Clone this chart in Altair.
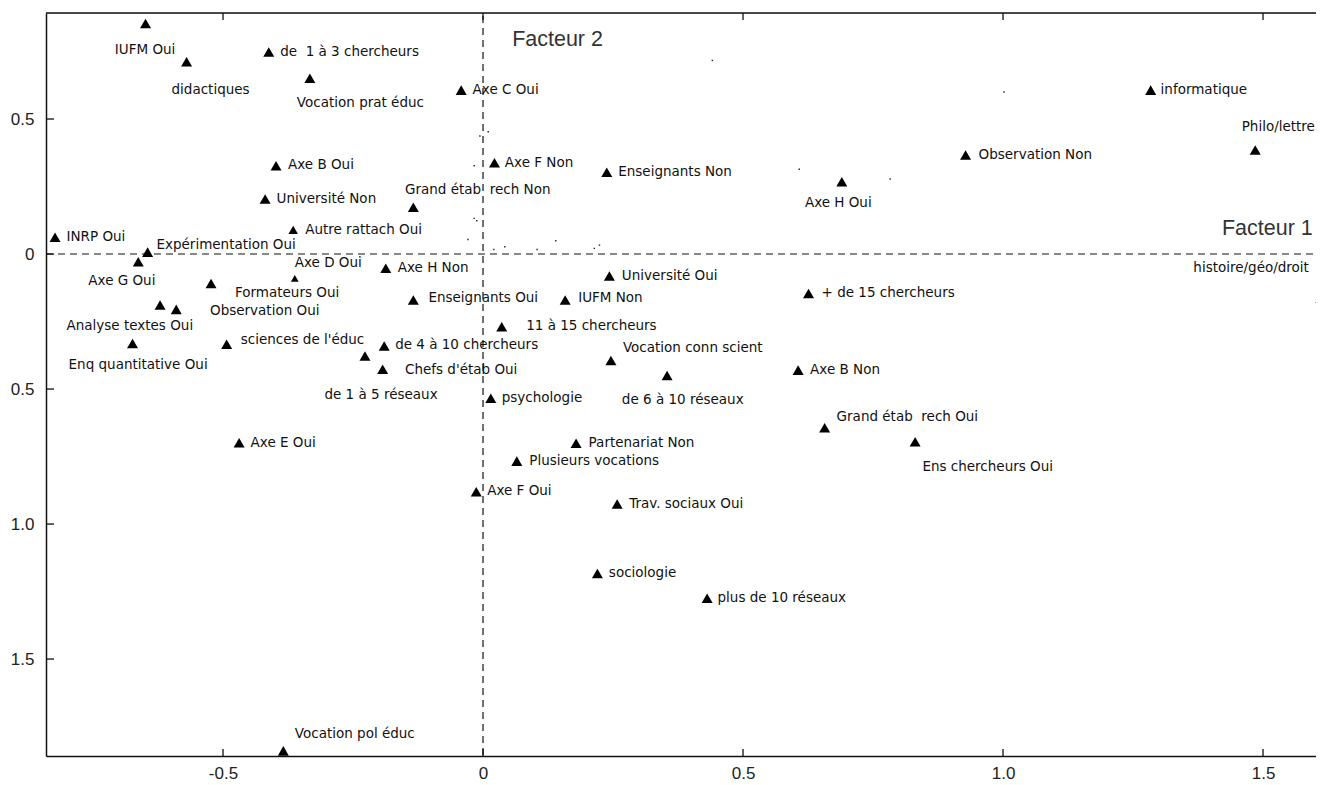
import altair as alt
import pandas as pd

# ---- data ----
labels = [
    "IUFM Oui", "didactiques", "de\u00a0 1 à 3 chercheurs", "Vocation prat éduc", "Axe B Oui",
    "Université Non", "Grand étab\u00a0 rech Non", "Autre rattach Oui", "INRP Oui", "Expérimentation Oui",
    "Axe G Oui", "Axe D Oui", "Axe H Non", "Formateurs Oui", "Enseignants Oui",
    "Analyse textes Oui", "Observation Oui", "Enq quantitative Oui", "sciences de l'éduc", "de 4 à 10 chercheurs",
    "de 1 à 5 réseaux", "Chefs d'étab Oui", "Axe E Oui", "Axe C Oui", "Axe F Non",
    "Enseignants Non", "Axe H Oui", "Université Oui", "IUFM Non", "11 à 15 chercheurs",
    "Vocation conn scient", "de 6 à 10 réseaux", "psychologie", "Partenariat Non", "Plusieurs vocations",
    "Axe F Oui", "Trav. sociaux Oui", "+ de 15 chercheurs", "Axe B Non", "Grand étab\u00a0 rech Oui",
    "Ens chercheurs Oui", "sociologie", "plus de 10 réseaux", "Vocation pol éduc", "informatique",
    "Philo/lettre", "Observation Non", "histoire/géo/droit",
]
f1 = [
    -0.649, -0.570, -0.412, -0.333, -0.398,
    -0.419, -0.134, -0.365, -0.823, -0.645,
    -0.663, -0.362, -0.187, -0.523, -0.134,
    -0.621, -0.590, -0.674, -0.493, -0.190,
    -0.227, -0.193, -0.469, -0.042, 0.022,
    0.238, 0.690, 0.243, 0.158, 0.036,
    0.246, 0.354, 0.015, 0.179, 0.065,
    -0.013, 0.258, 0.626, 0.606, 0.657,
    0.831, 0.220, 0.431, -0.384, 1.284,
    1.485, 0.928, 1.611,
]
f2 = [
    0.854, 0.712, 0.748, 0.651, 0.327,
    0.204, 0.173, 0.089, 0.062, 0.007,
    -0.029, -0.090, -0.053, -0.109, -0.170,
    -0.189, -0.205, -0.331, -0.334, -0.341,
    -0.378, -0.427, -0.699, 0.607, 0.338,
    0.303, 0.268, -0.081, -0.170, -0.269,
    -0.394, -0.450, -0.534, -0.701, -0.767,
    -0.880, -0.926, -0.146, -0.430, -0.643,
    -0.695, -1.183, -1.275, -1.840, 0.607,
    0.385, 0.367, -0.163,
]
# label anchor (left end of the text) in factor units
lab_f1 = [
    -0.708, -0.599, -0.390, -0.358, -0.375,
    -0.397, -0.150, -0.342, -0.801, -0.628,
    -0.759, -0.362, -0.164, -0.477, -0.105,
    -0.801, -0.525, -0.797, -0.466, -0.169,
    -0.305, -0.150, -0.447, -0.020, 0.042,
    0.260, 0.619, 0.267, 0.183, 0.083,
    0.269, 0.267, 0.036, 0.203, 0.089,
    0.008, 0.281, 0.651, 0.629, 0.680,
    0.845, 0.242, 0.451, -0.362, 1.303,
    1.459, 0.953, 1.366,
]
lab_f2 = [
    0.756, 0.607, 0.748, 0.558, 0.330,
    0.204, 0.237, 0.089, 0.062, 0.033,
    -0.099, -0.034, -0.053, -0.143, -0.164,
    -0.267, -0.211, -0.411, -0.319, -0.337,
    -0.522, -0.430, -0.699, 0.607, 0.338,
    0.304, 0.188, -0.081, -0.163, -0.267,
    -0.349, -0.541, -0.533, -0.700, -0.767,
    -0.878, -0.926, -0.144, -0.430, -0.603,
    -0.788, -1.181, -1.275, -1.779, 0.607,
    0.471, 0.367, -0.053,
]
quality = ["n"] * len(labels)
quality[labels.index("Autre rattach Oui")] = "s"
quality[labels.index("Axe D Oui")] = "t"

# unlabeled tiny points
dots_f1 = [0.441, 0.608, 0.010, -0.006, -0.017, -0.017, -0.012, -0.029, 0.021, 0.042,
           0.104, 0.140, 0.214, 0.224, 1.002, 0.783]
dots_f2 = [0.717, 0.314, 0.453, 0.437, 0.327, 0.132, 0.123, 0.054, 0.017, 0.027,
           0.017, 0.049, 0.021, 0.033, 0.600, 0.278]

x_ticks = [-0.5, 0.0, 0.5, 1.0, 1.5]
y_ticks = [0.5, 0.0, -0.5, -1.0, -1.5]
factor_names = ["Facteur 1", "Facteur 2"]
factor_f1 = [1.421, 0.056]
factor_f2 = [0.070, 0.770]

# ---- build ----
W, H = 1270, 743
XDOM = [-0.8404, 1.6019]
YDOM = [-1.859, 0.8926]

pts = pd.DataFrame({"label": labels, "f1": f1, "f2": f2,
                    "lx": lab_f1, "ly": lab_f2, "q": quality})
dots = pd.DataFrame({"f1": dots_f1, "f2": dots_f2})
xt = pd.DataFrame({"v": x_ticks})
yt = pd.DataFrame({"v": y_ticks})
fac = pd.DataFrame({"name": factor_names, "f1": factor_f1, "f2": factor_f2})

xs = alt.Scale(domain=XDOM, nice=False, zero=False)
ys = alt.Scale(domain=YDOM, nice=False, zero=False)

xaxis = alt.Axis(values=x_ticks, ticks=False, grid=False, title=None,
                 labelExpr="datum.value == 0 ? '0' : (datum.value < 0 ? '-' : '') + format(abs(datum.value), '.1f')",
                 labelFont="Liberation Sans", labelFontSize=17, labelColor="#222",
                 labelPadding=9, domainColor="#111", domainWidth=1.5)
yaxis = alt.Axis(values=y_ticks, ticks=False, grid=False, title=None,
                 labelExpr="datum.value == 0 ? '0' : format(abs(datum.value), '.1f')",
                 labelFont="Liberation Sans", labelFontSize=17, labelColor="#222",
                 labelPadding=12, domainColor="#111", domainWidth=1.5)

base_axes = alt.Chart(xt).mark_point(opacity=0).encode(
    x=alt.X("v:Q", scale=xs, axis=xaxis),
    y=alt.Y("v:Q", scale=ys, axis=yaxis),
)

vline = alt.Chart(pd.DataFrame({"v": [0.0]})).mark_rule(
    color="#111", strokeDash=[7, 5], strokeWidth=1.2).encode(
    x=alt.X("v:Q", scale=xs), y=alt.value(3), y2=alt.value(H))
hline = alt.Chart(pd.DataFrame({"v": [0.0]})).mark_rule(
    color="#111", strokeDash=[7, 5], strokeWidth=1.2).encode(
    y=alt.Y("v:Q", scale=ys), x=alt.value(0), x2=alt.value(W))

top_border = alt.Chart(pd.DataFrame({"v": [0]})).mark_rule(
    color="#111", strokeWidth=1.5).encode(
    x=alt.value(0), x2=alt.value(W), y=alt.value(0))
top_ticks = alt.Chart(xt).mark_rule(color="#111", strokeWidth=1.3).encode(
    x=alt.X("v:Q", scale=xs), y=alt.value(0), y2=alt.value(7))
bot_ticks = alt.Chart(xt).mark_rule(color="#111", strokeWidth=1.3).encode(
    x=alt.X("v:Q", scale=xs), y=alt.value(H - 7), y2=alt.value(H))
left_ticks = alt.Chart(yt).mark_rule(color="#111", strokeWidth=1.3).encode(
    y=alt.Y("v:Q", scale=ys), x=alt.value(0), x2=alt.value(8))

dot_layer = alt.Chart(dots).mark_square(color="#222", size=2, opacity=1).encode(
    x=alt.X("f1:Q", scale=xs), y=alt.Y("f2:Q", scale=ys))

tri = alt.Chart(pts).mark_point(shape="triangle-up", filled=True, color="#000",
                                opacity=1, clip=False).encode(
    x=alt.X("f1:Q", scale=xs), y=alt.Y("f2:Q", scale=ys),
    size=alt.Size("q:N", scale=alt.Scale(domain=["n", "s", "t"], range=[121, 60, 9]),
                  legend=None),
)

txt = alt.Chart(pts).mark_text(align="left", baseline="middle", font="DejaVu Sans",
                               fontSize=13.5, color="#111").encode(
    x=alt.X("lx:Q", scale=xs), y=alt.Y("ly:Q", scale=ys), text="label:N")

fac_txt = alt.Chart(fac).mark_text(align="left", baseline="alphabetic",
                                   font="Liberation Sans", fontSize=21.5,
                                   color="#333").encode(
    x=alt.X("f1:Q", scale=xs), y=alt.Y("f2:Q", scale=ys), text="name:N")

chart = alt.layer(
    base_axes, vline, hline, top_border, top_ticks, bot_ticks, left_ticks,
    dot_layer, tri, txt, fac_txt,
).properties(
    width=W, height=H,
    autosize=alt.AutoSizeParams(type="none"),
    padding={"left": 38, "top": 5, "right": 0, "bottom": 27},
).configure_view(stroke=None).configure(background="white")

chart.save("out.html", embed_options={"renderer": "svg", "actions": False})
